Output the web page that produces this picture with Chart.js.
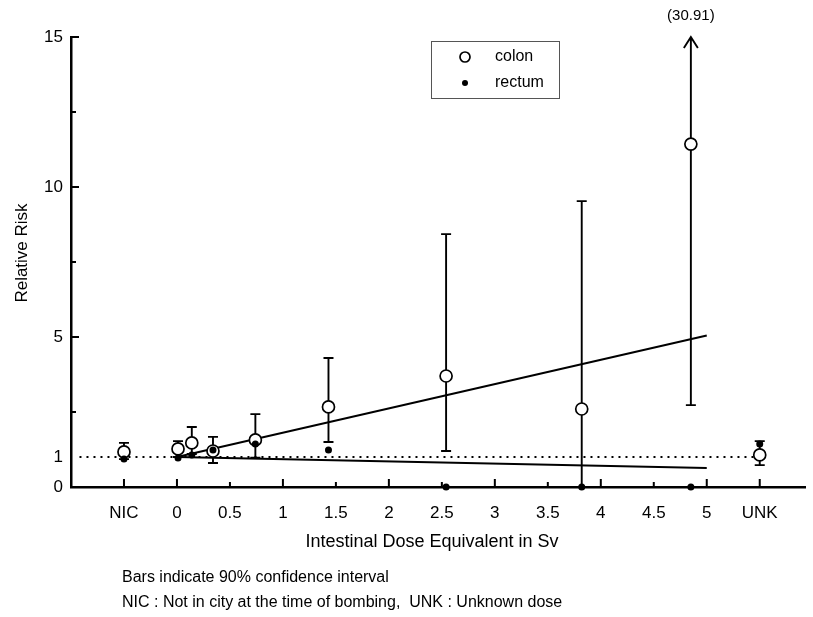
<!DOCTYPE html>
<html>
<head>
<meta charset="utf-8">
<script src="https://cdn.jsdelivr.net/npm/chart.js@4"></script>
<style>
  body { margin: 0; background: #fff; }
  canvas { display: block; }
</style>
</head>
<body>
<canvas id="riskChart" width="813" height="617"></canvas>
<script>
// dose (Sv); NIC is put at -0.5 and UNK at 5.5 on the axis
const colonDose = [-0.5, 0.01, 0.14, 0.34, 0.74, 1.43, 2.54, 3.82, 4.85, 5.5];
const colonRR   = [1.17, 1.27, 1.47, 1.2, 1.57, 2.67, 3.7, 2.6, 11.43, 1.07];
const colonLow  = [0.93, 1.0, 1.1, 0.8, 0.98, 1.5, 1.2, 0, 2.73, 0.73];
const colonHigh = [1.47, 1.53, 2.0, 1.67, 2.43, 4.3, 8.43, 9.53, 30.91, 1.53];

const rectumDose = [-0.5, 0.01, 0.14, 0.34, 0.74, 1.43, 2.54, 3.82, 4.85, 5.5];
const rectumRR   = [0.93, 0.97, 1.07, 1.23, 1.43, 1.23, 0, 0, 0, 1.43];

// fitted lines
const colonFitDose = [0, 5];
const colonFitRR   = [1.0, 5.05];
const rectumFitDose = [0, 5];
const rectumFitRR   = [1.0, 0.63];
const refDose = [-0.92, 5.45];
const refRR   = [1, 1];

const xTickValues = [-0.5, 0, 0.5, 1, 1.5, 2, 2.5, 3, 3.5, 4, 4.5, 5, 5.5];
const xTickLabels = ["NIC", "0", "0.5", "1", "1.5", "2", "2.5", "3", "3.5", "4", "4.5", "5", "UNK"];
const yTickValues = [0, 1, 5, 10, 15];
const yMinorTicks = [2.5, 7.5, 12.5];

const FONT = '"Liberation Sans", Arial, sans-serif';

function pairs(xs, ys) {
  return xs.map((x, i) => ({ x: x, y: ys[i] }));
}

const extras = {
  id: 'extras',
  beforeDatasetsDraw(chart) {
    const ctx = chart.ctx;
    const xs = chart.scales.x, ys = chart.scales.y;
    ctx.save();
    ctx.strokeStyle = '#000';
    ctx.lineWidth = 1.9;
    for (let i = 0; i < colonDose.length; i++) {
      const px = xs.getPixelForValue(colonDose[i]);
      const lo = ys.getPixelForValue(Math.max(colonLow[i], ys.min));
      const hi = ys.getPixelForValue(Math.min(colonHigh[i], ys.max));
      ctx.beginPath();
      ctx.moveTo(px, lo);
      ctx.lineTo(px, hi);
      if (colonHigh[i] <= ys.max) {
        ctx.moveTo(px - 5, hi);
        ctx.lineTo(px + 5, hi);
      } else {
        // off-scale: arrow head and the real value above it
        ctx.moveTo(px - 7, hi + 11);
        ctx.lineTo(px, hi);
        ctx.lineTo(px + 7, hi + 11);
      }
      if (colonLow[i] > ys.min) {
        ctx.moveTo(px - 5, lo);
        ctx.lineTo(px + 5, lo);
      }
      ctx.stroke();
      if (colonHigh[i] > ys.max) {
        ctx.fillStyle = '#000';
        ctx.font = '15px ' + FONT;
        ctx.textAlign = 'center';
        ctx.textBaseline = 'middle';
        ctx.fillText('(' + colonHigh[i].toFixed(2) + ')', px, hi - 21);
      }
    }
    ctx.restore();
  },
  afterDraw(chart) {
    const ctx = chart.ctx;
    const xs = chart.scales.x, ys = chart.scales.y;
    const area = chart.chartArea;
    ctx.save();
    ctx.strokeStyle = '#000';
    ctx.lineWidth = 2;
    // inward tick marks
    ctx.beginPath();
    xTickValues.forEach(v => {
      const px = xs.getPixelForValue(v);
      const len = (v % 1 === 0 || v < 0 || v > 5) ? 8 : 5;
      ctx.moveTo(px, area.bottom);
      ctx.lineTo(px, area.bottom - len);
    });
    [5, 10, 15].forEach(v => {
      const py = ys.getPixelForValue(v);
      ctx.moveTo(area.left, py);
      ctx.lineTo(area.left + 8, py);
    });
    yMinorTicks.forEach(v => {
      const py = ys.getPixelForValue(v);
      ctx.moveTo(area.left, py);
      ctx.lineTo(area.left + 5, py);
    });
    ctx.stroke();

    ctx.fillStyle = '#000';
    // axis titles
    ctx.font = '18px ' + FONT;
    ctx.textAlign = 'center';
    ctx.textBaseline = 'middle';
    ctx.fillText('Intestinal Dose Equivalent in Sv', 432, 542);
    ctx.save();
    ctx.translate(22, 253);
    ctx.rotate(-Math.PI / 2);
    ctx.font = '17px ' + FONT;
    ctx.fillText('Relative Risk', 0, 0);
    ctx.restore();

    // notes
    ctx.font = '16px ' + FONT;
    ctx.textAlign = 'left';
    ctx.fillText('Bars indicate 90% confidence interval', 122, 578);
    ctx.fillText('NIC : Not in city at the time of bombing,  UNK : Unknown dose', 122, 603);

    // legend
    ctx.strokeStyle = '#555';
    ctx.lineWidth = 1;
    ctx.strokeRect(431.5, 41.5, 128, 57);
    const colonSet = chart.data.datasets[0], rectumSet = chart.data.datasets[1];
    ctx.beginPath();
    ctx.arc(465, 57, 5, 0, Math.PI * 2);
    ctx.fillStyle = '#fff';
    ctx.fill();
    ctx.strokeStyle = colonSet.pointBorderColor;
    ctx.lineWidth = colonSet.pointBorderWidth;
    ctx.stroke();
    ctx.beginPath();
    ctx.arc(465, 83, 3, 0, Math.PI * 2);
    ctx.fillStyle = rectumSet.pointBackgroundColor;
    ctx.fill();
    ctx.fillStyle = '#000';
    ctx.font = '16px ' + FONT;
    ctx.fillText(colonSet.label, 495, 57);
    ctx.fillText(rectumSet.label, 495, 83);
    ctx.restore();
  }
};

const ctx = document.getElementById('riskChart').getContext('2d');
new Chart(ctx, {
  type: 'scatter',
  data: {
    datasets: [
      {
        label: 'colon',
        data: pairs(colonDose, colonRR),
        pointRadius: 6,
        pointBackgroundColor: '#fff',
        pointBorderColor: '#000',
        pointBorderWidth: 1.7,
        showLine: false,
        clip: false,
        order: 2
      },
      {
        label: 'rectum',
        data: pairs(rectumDose, rectumRR),
        pointRadius: 3.5,
        pointBackgroundColor: '#000',
        pointBorderColor: '#000',
        pointBorderWidth: 0,
        showLine: false,
        clip: false,
        order: 1
      },
      {
        label: 'colon fit',
        data: pairs(colonFitDose, colonFitRR),
        showLine: true,
        borderColor: '#000',
        borderWidth: 2,
        pointRadius: 0,
        order: 3
      },
      {
        label: 'rectum fit',
        data: pairs(rectumFitDose, rectumFitRR),
        showLine: true,
        borderColor: '#000',
        borderWidth: 2,
        pointRadius: 0,
        order: 3
      },
      {
        label: 'RR = 1',
        data: pairs(refDose, refRR),
        showLine: true,
        borderColor: '#000',
        borderWidth: 1.8,
        borderDash: [2, 5],
        pointRadius: 0,
        order: 4
      }
    ]
  },
  options: {
    responsive: false,
    animation: false,
    events: [],
    layout: { padding: { top: 37, left: 0, right: 0, bottom: 0 } },
    plugins: {
      legend: { display: false },
      tooltip: { enabled: false }
    },
    scales: {
      x: {
        type: 'linear',
        min: -1,
        max: 5.93,
        grid: { display: true, drawOnChartArea: false, drawTicks: false },
        border: { display: true, color: '#000', width: 2.5 },
        afterBuildTicks: s => { s.ticks = xTickValues.map(v => ({ value: v })); },
        afterFit: s => { s.height = 130; },
        ticks: {
          padding: 16,
          color: '#000',
          font: { family: FONT, size: 17 },
          maxRotation: 0,
          autoSkip: false,
          callback: (v, i) => xTickLabels[i]
        }
      },
      y: {
        min: 0,
        max: 15,
        grid: { display: true, drawOnChartArea: false, drawTicks: false },
        border: { display: true, color: '#000', width: 2.5 },
        afterBuildTicks: s => { s.ticks = yTickValues.map(v => ({ value: v })); },
        afterFit: s => { s.width = 71; },
        ticks: {
          padding: 8,
          color: '#000',
          font: { family: FONT, size: 17 },
          autoSkip: false,
          callback: v => String(v)
        }
      }
    }
  },
  plugins: [extras]
});
</script>
</body>
</html>
